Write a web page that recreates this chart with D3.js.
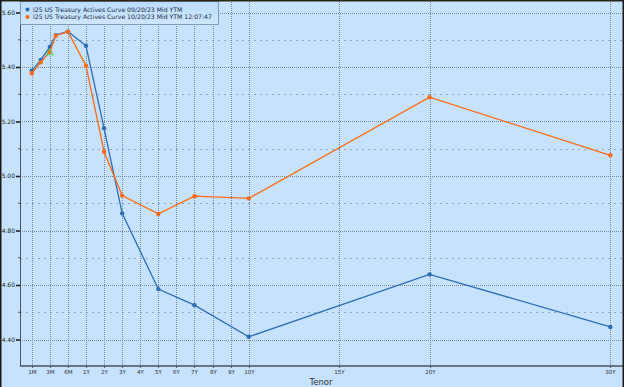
<!DOCTYPE html>
<html><head><meta charset="utf-8">
<script src="https://cdn.jsdelivr.net/npm/d3@7"></script>
<style>html,body{margin:0;padding:0;background:#C6E2FF;}svg{display:block;}</style>
</head><body>
<svg id="c" width="624" height="387"></svg>
<script>
// ---- data ----
const tickLabels = ["1M","3M","6M","1Y","2Y","3Y","4Y","5Y","6Y","7Y","8Y","9Y","10Y","15Y","20Y","30Y"];
const tenors = ["1M","2M","3M","4M","6M","1Y","2Y","3Y","5Y","7Y","10Y","20Y","30Y"];
const curveSep = [5.386,5.426,5.474,5.517,5.530,5.478,5.175,4.863,4.585,4.526,4.410,4.639,4.446];
const curveOct = [5.377,5.417,5.456,5.515,5.530,5.405,5.089,4.928,4.861,4.926,4.918,5.289,5.076];
const seriesNames = ["I25 US Treasury Actives Curve 09/20/23 Mid YTM","I25 US Treasury Actives Curve 10/20/23 Mid YTM 12:07:47"];
const yTicks = [4.40,4.60,4.80,5.00,5.20,5.40,5.60];
const yMinor = [4.30,4.50,4.70,4.90,5.10,5.30,5.50];
const triMarker = {tenor:"3M", value:5.452};

// ---- helpers ----
function months(t){const n=parseFloat(t);return t.endsWith("M")?n:n*12;}
const slot = d3.scaleLinear().domain([1,3,6,12,360]).range([-2,-1,0,1,30]);

const svg = d3.select("#c");
const L=20, R=623, T=2, B=366;
const x = d3.scaleLinear().domain([-2.65,30.7]).range([L,R]);
const y = d3.scaleLinear().domain([4.40,5.60]).range([339.5,12.5]);
const X = t => x(slot(months(t)));
const FONT = "'DejaVu Sans', Verdana, sans-serif";

svg.append("rect").attr("width",624).attr("height",387).attr("fill","#C6E2FF");

// grid
const g = svg.append("g");
g.selectAll(".hm").data(yMinor.filter(v=>y(v)<B)).join("line")
  .attr("x1",L).attr("x2",R).attr("y1",d=>Math.round(y(d))+0.5).attr("y2",d=>Math.round(y(d))+0.5)
  .attr("stroke","#94a6ba").attr("stroke-width",1).attr("stroke-dasharray","2,4");
g.selectAll(".hM").data(yTicks).join("line")
  .attr("x1",L).attr("x2",R).attr("y1",d=>Math.round(y(d))+0.5).attr("y2",d=>Math.round(y(d))+0.5)
  .attr("stroke","#7a8898").attr("stroke-width",1).attr("stroke-dasharray","1,1");
g.selectAll(".v").data(tickLabels).join("line")
  .attr("x1",d=>Math.round(X(d))+0.5).attr("x2",d=>Math.round(X(d))+0.5).attr("y1",T).attr("y2",B)
  .attr("stroke","#7a8898").attr("stroke-width",1).attr("stroke-dasharray","1,1");

// axes
const yAxis = d3.axisLeft(y).tickValues(yTicks).tickFormat(d3.format(".2f")).tickSize(4).tickPadding(1);
const ya = svg.append("g").attr("transform",`translate(${L},0)`).call(yAxis);
ya.select(".domain").remove();
ya.selectAll(".tick line").attr("stroke","#222").attr("stroke-width",1.6);
ya.selectAll(".tick text").attr("fill","#222").style("font",`6px ${FONT}`);
svg.append("g").selectAll("line").data(yMinor.filter(v=>y(v)<B)).join("line")
  .attr("x1",L-2).attr("x2",L).attr("y1",d=>y(d)).attr("y2",d=>y(d)).attr("stroke","#555").attr("stroke-width",1);
svg.append("line").attr("x1",L+0.5).attr("x2",L+0.5).attr("y1",T).attr("y2",B).attr("stroke","#4a5560").attr("stroke-width",1);

const xAxis = d3.axisBottom(d3.scalePoint().domain(tickLabels).range([0,1]))
  .tickSize(2).tickPadding(2);
const xa = svg.append("g").attr("transform",`translate(0,${B})`).call(xAxis);
xa.selectAll(".tick").attr("transform",d=>`translate(${Math.round(X(d))+0.5},0)`);
xa.select(".domain").remove();
xa.selectAll(".tick line").attr("stroke","#555");
xa.selectAll(".tick text").attr("fill","#333").style("font",`5.6px ${FONT}`);
svg.append("line").attr("x1",L).attr("x2",R).attr("y1",B).attr("y2",B).attr("stroke","#4a5560").attr("stroke-width",1.6);

svg.append("text").attr("x",321).attr("y",385).attr("text-anchor","middle")
  .attr("fill","#333").style("font",`8.5px ${FONT}`).text("Tenor");

// series
const colors = ["#2F6DB2","#FF6A12"];
[curveSep,curveOct].forEach((vals,i)=>{
  const pts = tenors.map((t,j)=>[X(t),y(vals[j])]);
  svg.append("path").attr("d",d3.line()(pts)).attr("fill","none").attr("stroke",colors[i]).attr("stroke-width",1.3);
  svg.append("g").selectAll("circle").data(pts).join("circle")
    .attr("cx",d=>d[0]).attr("cy",d=>d[1]).attr("r",2.2).attr("fill",colors[i]);
});
// green triangle marker
const tx = X(triMarker.tenor), ty = y(triMarker.value);
svg.append("path").attr("d",d3.symbol().type(d3.symbolTriangle).size(22)())
  .attr("transform",`translate(${tx},${ty})`).attr("fill","none").attr("stroke","#3fdc55").attr("stroke-width",0.9);

// legend
const lg = svg.append("g");
const grad = svg.append("defs").append("linearGradient").attr("id","lgf").attr("x1",0).attr("x2",0).attr("y1",0).attr("y2",1);
grad.append("stop").attr("offset",0).attr("stop-color","#B9DCFF");
grad.append("stop").attr("offset",1).attr("stop-color","#CFE7FF");
lg.append("rect").attr("x",20.5).attr("y",1.5).attr("width",198).attr("height",23).attr("fill","url(#lgf)")
  .attr("stroke","#8597ab").attr("stroke-width",1);
seriesNames.forEach((n,i)=>{
  lg.append("circle").attr("cx",27.5).attr("cy",9.5+i*7.5).attr("r",2).attr("fill",colors[i]);
  lg.append("text").attr("x",33).attr("y",11.8+i*7.5).attr("fill","#1d2b45")
    .style("font",`6.15px ${FONT}`).text(n);
});

// frame edges
svg.append("rect").attr("x",0).attr("y",0).attr("width",624).attr("height",1.5).attr("fill","#2a2418");
svg.append("rect").attr("x",0).attr("y",0).attr("width",1.5).attr("height",387).attr("fill","#1a1a1a");
svg.append("rect").attr("x",622.5).attr("y",0).attr("width",1.5).attr("height",387).attr("fill","#1a1a1a");
</script>
</body></html>
